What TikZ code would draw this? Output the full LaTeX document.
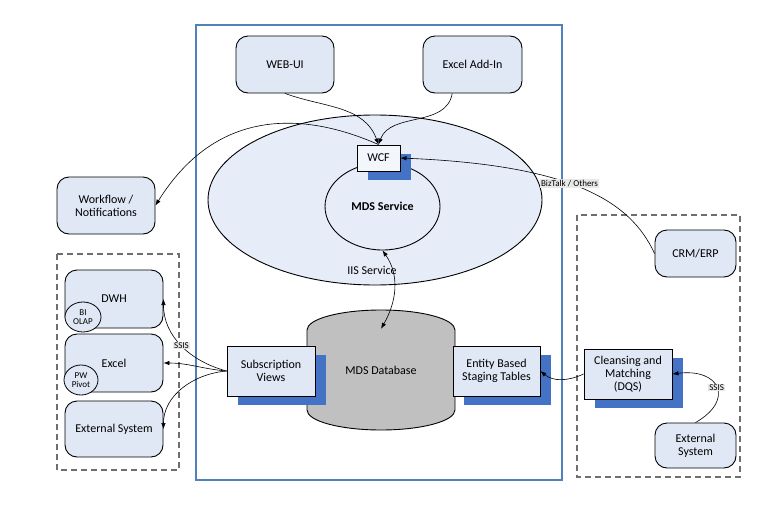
\documentclass[tikz,border=0pt]{standalone}
\usepackage{fontspec}
\setmainfont{Carlito}
\usetikzlibrary{shapes.geometric,shadows,arrows.meta}

\definecolor{boxfill}{RGB}{224,232,246}
\definecolor{iisfill}{RGB}{230,236,248}
\definecolor{shadowblue}{RGB}{68,114,196}
\definecolor{frameblue}{RGB}{79,129,189}
\definecolor{dbgray}{RGB}{192,192,192}
\definecolor{dashgray}{RGB}{110,110,110}
\definecolor{taggray}{RGB}{232,232,232}

\begin{document}
\begin{tikzpicture}[x=1pt,y=-1pt,
	every node/.style={font=\fontsize{12}{13}\selectfont, align=center, inner sep=1pt},
	app/.style={draw, rounded corners=12pt, fill=boxfill, line width=0.9pt},
	tbl/.style={draw, fill=boxfill, line width=0.9pt,
		drop shadow={shadow xshift=11pt, shadow yshift=-9pt, fill=shadowblue, opacity=1}},
	bubble/.style={draw, ellipse, fill=boxfill, line width=0.8pt, inner sep=0pt, font=\fontsize{9}{9.5}\selectfont},
	group/.style={draw=dashgray, dashed, line width=1.1pt, dash pattern=on 6pt off 4pt},
	conn/.style={-{Latex[length=6pt,width=4.5pt]}, line width=0.6pt},
	tag/.style={fill=taggray, font=\fontsize{9}{10}\selectfont, inner sep=0.8pt}]
	\useasboundingbox (0,0) rectangle (774,514);

	% server frame and groups
	\draw[frameblue, line width=2.5pt] (196,25) rectangle (562,480);
	\draw[group] (57,254) rectangle (179,470);
	\draw[group] (577,215) rectangle (740,477);

	% clients
	\node[app, minimum width=98pt, minimum height=57pt] (web) at (285,64.5) {WEB-UI};
	\node[app, minimum width=99pt, minimum height=57pt] (addin) at (472.5,64.5) {Excel Add-In};

	% IIS service
	\node[draw, ellipse, fill=iisfill, line width=0.9pt, minimum width=334pt, minimum height=170pt] (iis) at (375,200) {};
	\node at (372,270) {IIS Service};
	\node[draw, ellipse, fill=iisfill, line width=0.9pt, minimum width=115pt, minimum height=87pt,
		font=\bfseries\fontsize{12}{13}\selectfont] (mds) at (382.5,206.5) {MDS Service};
	\node[tbl, fill=white!60!boxfill, minimum width=43pt, minimum height=26pt] (wcf) at (378.5,158) {WCF};

	% database
	\draw[fill=dbgray, line width=0.9pt] (307,330) -- (307,410)
		arc[start angle=180, end angle=360, x radius=74pt, y radius=20pt] -- (455,330)
		arc[start angle=0, end angle=180, x radius=74pt, y radius=20pt] -- cycle;
	\node[minimum width=148pt, minimum height=120pt] (db) at (381,370) {MDS Database};
	\node[tbl, minimum width=88pt, minimum height=50pt] (sub) at (271,371) {Subscription\\Views};
	\node[tbl, minimum width=87pt, minimum height=50pt] (ent) at (496.5,371) {Entity Based\\Staging Tables};

	% left side
	\node[app, minimum width=98pt, minimum height=57pt] (wf) at (106,205.5) {Workflow /\\Notifications};
	\node[app, minimum width=98pt, minimum height=58pt] (dwh) at (114,299) {DWH};
	\node[bubble, minimum width=36pt, minimum height=30pt] (bi) at (83,317) {BI\\OLAP};
	\node[app, minimum width=98pt, minimum height=58pt] (xl) at (114,363) {Excel};
	\node[bubble, minimum width=34pt, minimum height=30pt] (pw) at (81,380) {PW\\Pivot};
	\node[app, minimum width=98pt, minimum height=56pt] (ext) at (114,429) {External System};

	% right side
	\node[app, minimum width=81pt, minimum height=47pt] (crm) at (695.5,253.5) {CRM/ERP};
	\node[tbl, minimum width=88pt, minimum height=50pt] (cl) at (628,374) {Cleansing and\\Matching\\(DQS)};
	\node[app, minimum width=81pt, minimum height=45pt] (ext2) at (695.5,445.5) {External\\System};

	% connectors
	\draw[conn] (web.south) to[out=-20,in=110] (wcf.north);
	\draw[conn] (addin.235) to[out=-100,in=70] (wcf.north);
	\draw[conn] (wcf.north) .. controls (300,110) and (215,110) .. (wf.east);
	\draw[conn] (crm.west) .. controls (630,200) and (570,165) .. node[tag, pos=0.55] {BizTalk / Others} (wcf.east);
	\draw[conn, {Latex[length=6pt,width=4.5pt]}-{Latex[length=6pt,width=4.5pt]}] (mds.south) to[out=-55,in=60] ([yshift=-19pt]db.north);
	\draw[conn] (sub.west) to[out=165,in=-90] node[tag, pos=0.5] {SSIS} (dwh.east);
	\draw[conn] (sub.west) to[out=175,in=0] (xl.east);
	\draw[conn] (sub.west) to[out=185,in=90] (ext.east);
	\draw[conn] (cl.west) to[out=205,in=-40] (ent.east);
	\draw[conn] (ext2.north) .. controls (735,400) and (720,368) .. node[tag, pos=0.5] {SSIS} (cl.east);
\end{tikzpicture}
\end{document}
